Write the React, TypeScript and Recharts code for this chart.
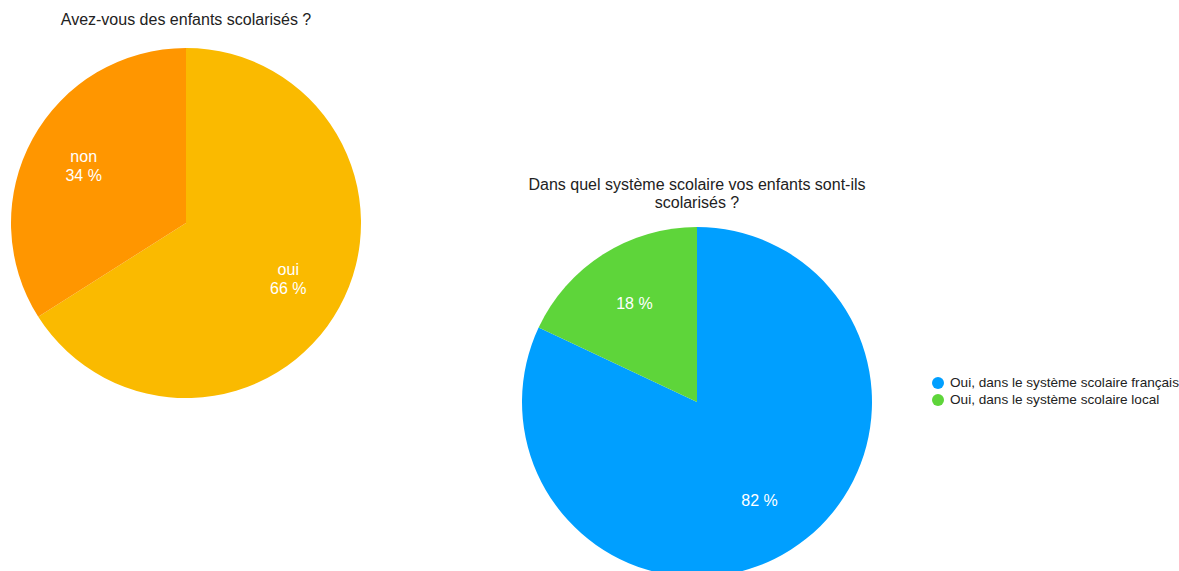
import { PieChart, Pie, Cell, Legend } from "recharts";

const childNames = ["oui", "non"];
const childValues = [66, 34];
const childColors = ["#FABA00", "#FF9600"];

const systemNames = [
  "Oui, dans le système scolaire français",
  "Oui, dans le système scolaire local",
];
const systemValues = [82, 18];
const systemColors = ["#009FFF", "#5ED53A"];

const FONT = "'Liberation Sans', Arial, Helvetica, sans-serif";
const RADIAN = Math.PI / 180;

const childData = childNames.map((name, i) => ({ name, value: childValues[i] }));
const systemData = systemNames.map((name, i) => ({ name, value: systemValues[i] }));

function makeLabel(showName: boolean) {
  return (props: any) => {
    const { cx, cy, midAngle, outerRadius, name, value } = props;
    const r = outerRadius * 0.667;
    const x = cx + r * Math.cos(-midAngle * RADIAN);
    const y = cy + r * Math.sin(-midAngle * RADIAN);
    const pct = `${value} %`;
    if (!showName) {
      return (
        <text x={x} y={y} fill="#fff" fontSize={16} fontFamily={FONT} textAnchor="middle" dominantBaseline="central">
          {pct}
        </text>
      );
    }
    return (
      <text x={x} fill="#fff" fontSize={16} fontFamily={FONT} textAnchor="middle">
        <tspan x={x} y={y - 10} dominantBaseline="central">{name}</tspan>
        <tspan x={x} y={y + 9} dominantBaseline="central">{pct}</tspan>
      </text>
    );
  };
}

function SystemLegend() {
  return (
    <div style={{ fontFamily: FONT, fontSize: 13.6, color: "#222" }}>
      {systemNames.map((n, i) => (
        <div key={n} style={{ display: "flex", alignItems: "center", height: 17 }}>
          <span
            style={{
              width: 12,
              height: 12,
              borderRadius: "50%",
              background: systemColors[i],
              display: "inline-block",
              marginRight: 6,
            }}
          />
          {n}
        </div>
      ))}
    </div>
  );
}

export default function App() {
  return (
    <div
      style={{
        position: "fixed",
        left: 0,
        top: 0,
        width: 1179,
        height: 571,
        background: "#fff",
        overflow: "hidden",
        fontFamily: FONT,
      }}
    >
      <div
        style={{
          position: "absolute",
          left: 0,
          top: 11,
          width: 372,
          textAlign: "center",
          fontSize: 16,
          color: "#222",
        }}
      >
        Avez-vous des enfants scolarisés ?
      </div>
      <div style={{ position: "absolute", left: 0, top: 0 }}>
        <PieChart width={372} height={420} margin={{ top: 0, right: 0, bottom: 0, left: 0 }}>
          <Pie
            data={childData}
            dataKey="value"
            nameKey="name"
            cx={186}
            cy={223}
            outerRadius={175}
            startAngle={90}
            endAngle={-270}
            stroke="none"
            labelLine={false}
            label={makeLabel(true)}
            isAnimationActive={false}
          >
            {childData.map((d, i) => (
              <Cell key={d.name} fill={childColors[i]} />
            ))}
          </Pie>
        </PieChart>
      </div>

      <div
        style={{
          position: "absolute",
          left: 447,
          top: 176,
          width: 500,
          textAlign: "center",
          fontSize: 16,
          lineHeight: "18px",
          color: "#222",
        }}
      >
        Dans quel système scolaire vos enfants sont-ils
        <br />
        scolarisés ?
      </div>
      <div style={{ position: "absolute", left: 480, top: 0 }}>
        <PieChart width={699} height={600} margin={{ top: 0, right: 0, bottom: 0, left: 0 }}>
          <Pie
            data={systemData}
            dataKey="value"
            nameKey="name"
            cx={217}
            cy={402}
            outerRadius={175}
            startAngle={90}
            endAngle={-270}
            stroke="none"
            labelLine={false}
            label={makeLabel(false)}
            isAnimationActive={false}
          >
            {systemData.map((d, i) => (
              <Cell key={d.name} fill={systemColors[i]} />
            ))}
          </Pie>
          <Legend
            content={<SystemLegend />}
            wrapperStyle={{ position: "absolute", left: 452, top: 374, width: 260 }}
          />
        </PieChart>
      </div>
    </div>
  );
}
